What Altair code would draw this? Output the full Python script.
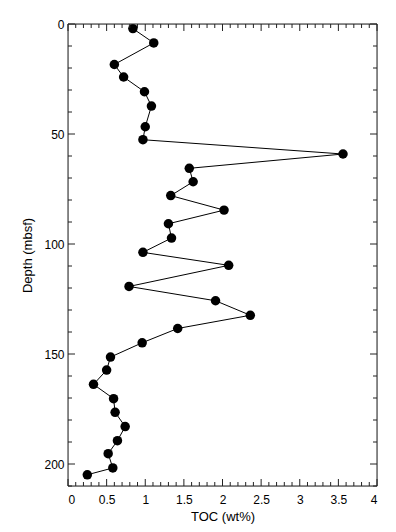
import altair as alt
import pandas as pd

# Data
toc = [0.84, 1.11, 0.60, 0.72, 0.99, 1.08, 1.00, 0.97, 3.56, 1.57, 1.62, 1.33,
       2.02, 1.30, 1.34, 0.97, 2.08, 0.79, 1.91, 2.36, 1.42, 0.96, 0.55, 0.50,
       0.33, 0.59, 0.61, 0.74, 0.64, 0.52, 0.58, 0.25]
depth = [2.1, 8.6, 18.4, 24.1, 30.8, 37.3, 46.7, 52.6, 59.1, 65.6, 71.7, 78.0,
         84.6, 90.8, 97.3, 103.8, 109.7, 119.3, 125.8, 132.4, 138.4, 144.9, 151.4, 157.3,
         163.8, 170.3, 176.5, 183.0, 189.4, 195.3, 201.8, 204.9]

x_major = [0, 0.5, 1, 1.5, 2, 2.5, 3, 3.5, 4]
x_minor = [round(i * 0.1, 1) for i in range(41) if i % 5 != 0]
y_major = [0, 50, 100, 150, 200]
y_minor = [i * 10 for i in range(22) if i % 5 != 0]

W, H = 309, 462
FONT = "Liberation Sans"

df = pd.DataFrame({"toc": toc, "depth": depth, "order": list(range(len(toc)))})

xs = alt.Scale(domain=[0, 4], nice=False, zero=False)
ys = alt.Scale(domain=[0, 210], reverse=True, nice=False, zero=False)

x_axis = alt.Axis(values=x_major, format="~g", ticks=False, domain=False, grid=False,
                  labelFont=FONT, labelFontSize=12, labelPadding=8, labelColor="black",
                  title="TOC (wt%)", titleFont=FONT, titleFontSize=13, titleFontWeight="normal",
                  titlePadding=5, titleColor="black")
y_axis = alt.Axis(values=y_major, ticks=False, domain=False, grid=False,
                  labelFont=FONT, labelFontSize=12, labelPadding=4, labelColor="black",
                  title="Depth (mbsf)", titleFont=FONT, titleFontSize=13, titleFontWeight="normal",
                  titlePadding=9, titleColor="black")

X = alt.X("toc:Q", scale=xs, axis=x_axis, title="TOC (wt%)")
Y = alt.Y("depth:Q", scale=ys, axis=y_axis, title="Depth (mbsf)")

base = alt.Chart(df)
line = base.mark_line(color="black", strokeWidth=1).encode(x=X, y=Y, order="order:Q")
pts = base.mark_circle(color="black", opacity=1, size=90).encode(x=X, y=Y)

frame = alt.Chart(pd.DataFrame({"a": [0]})).mark_rect(fill=None, stroke="#222", strokeWidth=1).encode(
    x=alt.value(0), x2=alt.value(W), y=alt.value(0), y2=alt.value(H)
)

def xticks(vals, length):
    d = alt.Chart(pd.DataFrame({"toc": vals}))
    bot = d.mark_rule(color="#222", strokeWidth=1).encode(
        x=X, y=alt.value(H), y2=alt.value(H - length))
    top = d.mark_rule(color="#222", strokeWidth=1).encode(
        x=X, y=alt.value(0), y2=alt.value(length))
    return [bot, top]

def yticks(vals, length):
    d = alt.Chart(pd.DataFrame({"depth": vals}))
    left = d.mark_rule(color="#222", strokeWidth=1).encode(
        y=Y, x=alt.value(0), x2=alt.value(length))
    right = d.mark_rule(color="#222", strokeWidth=1).encode(
        y=Y, x=alt.value(W), x2=alt.value(W - length))
    return [left, right]

layers = [line, pts, frame] + xticks(x_major, 7) + xticks(x_minor, 4) + yticks(y_major, 7) + yticks(y_minor, 4)

chart = alt.layer(*layers).properties(
    width=W, height=H,
    autosize=alt.AutoSizeParams(type="none"),
    padding={"left": 60, "top": 16, "right": 10, "bottom": 38},
).configure_view(stroke=None).configure(background="white")

chart.save("out.html", embed_options={"renderer": "svg", "actions": False})
